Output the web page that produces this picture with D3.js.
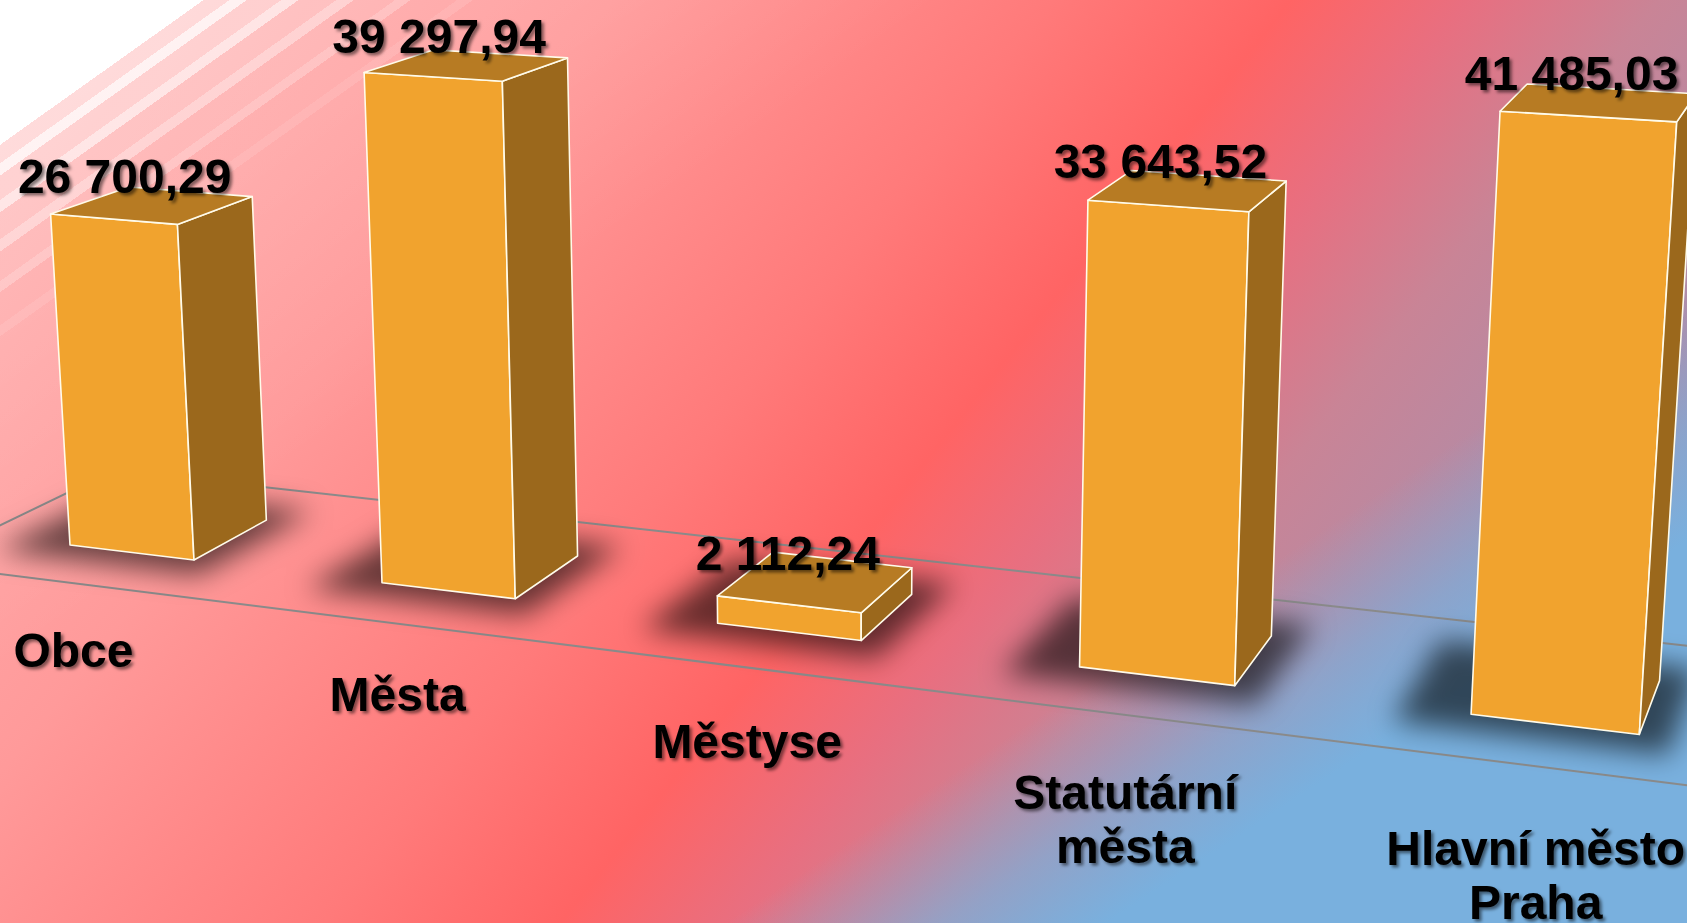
<!DOCTYPE html>
<html>
<head>
<meta charset="utf-8">
<script src="https://cdn.jsdelivr.net/npm/d3@7"></script>
<style>
html, body { margin: 0; padding: 0; overflow: hidden; background: #fff; }
svg { display: block; }
text { font-family: "Liberation Sans", Arial, sans-serif; font-weight: bold; }
</style>
</head>
<body>
<div id="chart"></div>
<script>
// data
var categories = ["Obce", "Města", "Městyse", "Statutární města", "Hlavní město Praha"];
var categoryLines = [["Obce"], ["Města"], ["Městyse"], ["Statutární", "města"], ["Hlavní město", "Praha"]];
var values = [26700.29, 39297.94, 2112.24, 33643.52, 41485.03];
var valueDomain = [0, 45000];

var width = 1687, height = 923;

// colours
var color_front = "#f1a32e";
var color_side = "#9b681c";
var color_top = "#b77b23";
var color_floor = "#8a8a8a";

// perspective camera (focal length, principal point, pitch, yaw) and the
// screen spot where the front-left-bottom corner of the first bar lands
var cam = {
    f: 3325, cx: 844, cy: 334,
    pitch: Math.atan(0.2478), yaw: Math.atan(0.3666),
    depth: 3325, anchor: [70, 545]
};

// world: x along categories, y up, z away from viewer
var floorLen = 1748, floorDepth = 349.6;
var x = d3.scaleBand().domain(categories).range([0, floorLen])
    .paddingInner(0.594).paddingOuter(0.297);
var y = d3.scaleLinear().domain(valueDomain).range([0, 569.7]);
var bw = x.bandwidth(), bd = bw, z0 = (floorDepth - bd) / 2;

var cp = Math.cos(cam.pitch), sp = Math.sin(cam.pitch);
var cw = Math.cos(cam.yaw), sw = Math.sin(cam.yaw);
var A = [x(categories[0]), 0, z0];
var Ac = [(cam.anchor[0] - cam.cx) * cam.depth / cam.f,
          -(cam.anchor[1] - cam.cy) * cam.depth / cam.f,
          cam.depth];

function toCam(p){
    var dx = p[0] - A[0], dy = p[1] - A[1], dz = p[2] - A[2];
    var rx = dx * cw + dz * sw, rz = -dx * sw + dz * cw;
    return [Ac[0] + rx, Ac[1] + dy * cp + rz * sp, Ac[2] - dy * sp + rz * cp];
}
function project(p){
    var c = toCam(p);
    return [cam.cx + cam.f * c[0] / c[2], cam.cy - cam.f * c[1] / c[2], c[2]];
}
// camera position in world coords (for face culling)
var camPos = (function(){
    var xc = -Ac[0], yc = -Ac[1], zc = -Ac[2];
    var dy = yc * cp - zc * sp, rz = yc * sp + zc * cp, rx = xc;
    return [A[0] + rx * cw - rz * sw, A[1] + dy, A[2] + rx * sw + rz * cw];
})();

var fmt = d3.formatLocale({decimal: ",", thousands: " ", grouping: [3], currency: ["", ""]}).format(",.2f");
var line = d3.line();

var svg = d3.select("#chart").append("svg")
    .attr("width", width)
    .attr("height", height);

var defs = svg.append("defs");

// background: diagonal pink -> red -> mauve, blue washing in from the bottom right
function linGrad(id, vx, vy, len){
    return defs.append("linearGradient").attr("id", id)
        .attr("gradientUnits", "userSpaceOnUse")
        .attr("x1", 0).attr("y1", 0).attr("x2", vx * len).attr("y2", vy * len);
}
var base = linGrad("base", 0.784, 0.621, 1906);
[[0, "#ffb4b4"], [480, "#ff9a9a"], [826, "#ff7a7a"], [1012, "#ff6464"],
 [1150, "#e86f80"], [1300, "#c98496"], [1500, "#b08ca8"], [1906, "#a094b8"]].forEach(s => {
    base.append("stop").attr("offset", s[0] / 1906).attr("stop-color", s[1]);
});
var blue = linGrad("blue", 0.55, 0.835, 1700);
[[0, 0], [1170, 0], [1290, 0.65], [1380, 1], [1700, 1]].forEach(s => {
    blue.append("stop").attr("offset", s[0] / 1700)
        .attr("stop-color", "#79b0de").attr("stop-opacity", s[1]);
});

// white glare stripes top-left
var glare = linGrad("glare", 0.58, 0.815, 600);
[[0, 1], [118, 1], [118, 0.55], [133, 0.55], [133, 0.85], [143, 0.85],
 [143, 0.45], [163, 0.45], [163, 0.7], [173, 0.7], [173, 0.3], [195, 0.3],
 [195, 0.5], [205, 0.5], [205, 0.2], [229, 0.2], [229, 0.34], [238, 0.34],
 [238, 0.12], [265, 0.12], [265, 0.2], [274, 0.2], [274, 0.1], [550, 0], [600, 0]].forEach(b => {
    glare.append("stop").attr("offset", b[0] / 600)
        .attr("stop-color", "#fff").attr("stop-opacity", b[1]);
});

defs.append("filter").attr("id", "blur")
    .attr("x", "-60%").attr("y", "-60%").attr("width", "220%").attr("height", "220%")
    .append("feGaussianBlur").attr("stdDeviation", 14);

defs.append("filter").attr("id", "txtshadow")
    .attr("x", "-10%").attr("y", "-30%").attr("width", "130%").attr("height", "160%")
    .append("feDropShadow")
    .attr("dx", 2.5).attr("dy", 2.5).attr("stdDeviation", 1.6)
    .attr("flood-color", "#000").attr("flood-opacity", 0.5);

["base", "blue", "glare"].forEach(id => {
    svg.append("rect").attr("width", width).attr("height", height).attr("fill", "url(#" + id + ")");
});

function pathOf(pts){
    return line(pts.map(p => [p[0], p[1]])) + "Z";
}

// floor outline
var floorPts = [[0, 0, 0], [floorLen, 0, 0], [floorLen, 0, floorDepth], [0, 0, floorDepth]].map(project);
svg.append("path")
    .attr("d", pathOf(floorPts))
    .attr("fill", "none")
    .attr("stroke", color_floor)
    .attr("stroke-width", 2);

var bars = categories.map((c, i) => ({cat: c, lines: categoryLines[i], value: values[i], x0: x(c)}));

// shadows on the floor
svg.append("g").attr("filter", "url(#blur)")
    .selectAll("path.shadow")
    .data(bars)
    .enter()
    .append("path")
    .classed("shadow", true)
    .attr("d", d => {
        var xa = d.x0 - 0.42 * bw, xb = d.x0 + bw * 1.2;
        var za = z0 - 0.28 * bd, zb = z0 + bd * 1.3;
        return pathOf([[xa, 0, za], [xb, 0, za], [xb, 0, zb], [xa, 0, zb]].map(project));
    })
    .attr("fill", "#000")
    .attr("fill-opacity", 0.6);

// boxes
function faces(d){
    var xa = d.x0, xb = d.x0 + bw, h = y(d.value), za = z0, zb = z0 + bd;
    var list = [
        {n: [0, 0, -1], c: color_front, p: [[xa, 0, za], [xb, 0, za], [xb, h, za], [xa, h, za]]},
        {n: [0, 0, 1], c: color_side, p: [[xa, 0, zb], [xb, 0, zb], [xb, h, zb], [xa, h, zb]]},
        {n: [-1, 0, 0], c: color_side, p: [[xa, 0, za], [xa, 0, zb], [xa, h, zb], [xa, h, za]]},
        {n: [1, 0, 0], c: color_side, p: [[xb, 0, za], [xb, 0, zb], [xb, h, zb], [xb, h, za]]},
        {n: [0, 1, 0], c: color_top, p: [[xa, h, za], [xb, h, za], [xb, h, zb], [xa, h, zb]]}
    ];
    return list.filter(f => {
        var cx = d3.mean(f.p, q => q[0]), cy = d3.mean(f.p, q => q[1]), cz = d3.mean(f.p, q => q[2]);
        return (camPos[0] - cx) * f.n[0] + (camPos[1] - cy) * f.n[1] + (camPos[2] - cz) * f.n[2] > 0;
    });
}

var order = bars.slice().sort((a, b) => project([b.x0 + bw / 2, 0, z0])[2] - project([a.x0 + bw / 2, 0, z0])[2]);

svg.selectAll("g.bar")
    .data(order)
    .enter()
    .append("g")
    .classed("bar", true)
    .selectAll("path")
    .data(d => faces(d))
    .enter()
    .append("path")
    .attr("d", f => pathOf(f.p.map(project)))
    .attr("fill", f => f.c)
    .attr("stroke", "#fffbea")
    .attr("stroke-width", 1.6)
    .attr("stroke-linejoin", "round");

// value labels above the boxes
svg.selectAll("text.value")
    .data(bars)
    .enter()
    .append("text")
    .classed("value", true)
    .attr("x", d => project([d.x0 + bw / 2, y(d.value), z0 + bd / 2])[0] - 28)
    .attr("y", d => project([d.x0 + bw / 2, y(d.value), z0 + bd / 2])[1] - 12)
    .attr("text-anchor", "middle")
    .attr("font-size", 48)
    .attr("fill", "#000")
    .attr("filter", "url(#txtshadow)")
    .text(d => fmt(d.value));

// category labels in front of the floor
svg.selectAll("text.cat")
    .data(bars)
    .enter()
    .append("text")
    .classed("cat", true)
    .attr("text-anchor", "middle")
    .attr("font-size", 48)
    .attr("fill", "#000")
    .attr("filter", "url(#txtshadow)")
    .each(function(d){
        var p = project([d.x0 + bw / 2, 0, 0]);
        var baseY = p[1] + 81 * cam.f / p[2];
        d3.select(this).selectAll("tspan")
            .data(d.lines)
            .enter()
            .append("tspan")
            .attr("x", p[0])
            .attr("y", (t, i) => baseY + i * 54)
            .text(t => t);
    });
</script>
</body>
</html>
